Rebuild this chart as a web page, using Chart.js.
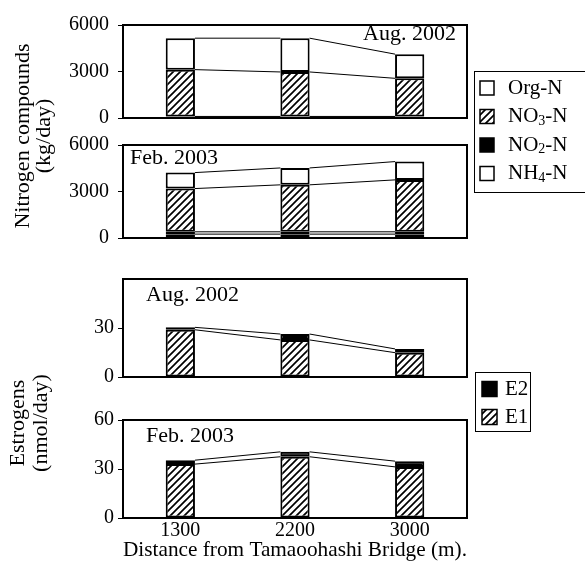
<!DOCTYPE html>
<html>
<head>
<meta charset="utf-8">
<script src="https://cdn.jsdelivr.net/npm/chart.js@4.4.1/dist/chart.umd.min.js"></script>
<style>
  html, body { margin: 0; padding: 0; background: #fff; }
  #wrap { position: relative; width: 585px; height: 574px; overflow: hidden; background: #fff; }
  #wrap canvas { position: absolute; left: 0; top: 0; }
</style>
</head>
<body>
<div id="wrap">
  <canvas id="nAug" width="585" height="574"></canvas>
  <canvas id="nFeb" width="585" height="574"></canvas>
  <canvas id="eAug" width="585" height="574"></canvas>
  <canvas id="eFeb" width="585" height="574"></canvas>
</div>
<script>
// Sampling points along the river (m from Tamaoohashi Bridge)
const distances = ['1300', '2200', '3000'];

// Nitrogen loads, kg/day (stacked bottom to top: NH4, NO2, NO3, Org)
const nitrogenSeries = ['NH4-N', 'NO2-N', 'NO3-N', 'Org-N'];
const nh4Aug = [60, 60, 60];
const no2Aug = [40, 40, 40];
const no3Aug = [3020, 2870, 2460];
const orgAug = [2030, 2180, 1560];
const nh4Feb = [250, 250, 250];
const no2Feb = [150, 150, 150];
const no3Feb = [2790, 3030, 3350];
const orgFeb = [1030, 1090, 1180];

// Estrogen loads, nmol/day (stacked bottom to top: E1, E2)
const estrogenSeries = ['E1', 'E2'];
const e1Aug = [28.9, 22.7, 14.9];
const e2Aug = [1.5, 3.6, 2.3];
const e1Feb = [33.0, 37.5, 31.3];
const e2Feb = [2.4, 3.0, 3.5];

// Axis ticks
const nitrogenTicks = [0, 3000, 6000];
const estrogenTicks = [0, 30, 60];

const FONT = '"Liberation Serif", "Times New Roman", serif';
Chart.defaults.font.family = FONT;
Chart.defaults.color = '#000';

function makeHatch() {
  const s = 7;
  const c = document.createElement('canvas');
  c.width = s; c.height = s;
  const g = c.getContext('2d');
  g.fillStyle = '#fff';
  g.fillRect(0, 0, s, s);
  g.strokeStyle = '#000';
  g.lineWidth = 1.7;
  g.beginPath();
  g.moveTo(-1, s + 1); g.lineTo(s + 1, -1);
  g.moveTo(-1, 1); g.lineTo(1, -1);
  g.moveTo(s - 1, s + 1); g.lineTo(s + 1, s - 1);
  g.stroke();
  return g.createPattern(c, 'repeat');
}
const HATCH = makeHatch();

const fills = {
  'NH4-N': '#fff', 'NO2-N': '#000', 'NO3-N': HATCH, 'Org-N': '#fff',
  'E1': HATCH, 'E2': '#000'
};

// Text with a subscript digit, e.g. NO3-N
function drawRich(ctx, label, x, y, size) {
  const m = label.match(/^([A-Za-z]+)(\d)(-.*)$/);
  ctx.textAlign = 'left';
  ctx.textBaseline = 'middle';
  ctx.fillStyle = '#000';
  ctx.font = size + 'px ' + FONT;
  if (!m) { ctx.fillText(label, x, y); return; }
  ctx.fillText(m[1], x, y);
  let w = ctx.measureText(m[1]).width;
  ctx.font = Math.round(size * 0.68) + 'px ' + FONT;
  ctx.fillText(m[2], x + w, y + size * 0.22);
  w += ctx.measureText(m[2]).width;
  ctx.font = size + 'px ' + FONT;
  ctx.fillText(m[3], x + w, y);
}

// Box around the plotting area
const framePlugin = {
  id: 'frame',
  afterDraw(chart) {
    const { ctx, chartArea: a } = chart;
    ctx.save();
    ctx.strokeStyle = '#000';
    ctx.lineWidth = 2;
    ctx.strokeRect(a.left, a.top, a.right - a.left, a.bottom - a.top);
    ctx.restore();
  }
};

// Thin lines joining the tops of matching segments of neighbouring bars
const connectorPlugin = {
  id: 'connectors',
  afterDatasetsDraw(chart) {
    const ctx = chart.ctx;
    ctx.save();
    ctx.strokeStyle = '#000';
    ctx.lineWidth = 1;
    chart.data.datasets.forEach((ds, di) => {
      const bars = chart.getDatasetMeta(di).data;
      for (let i = 0; i < bars.length - 1; i++) {
        const a = bars[i], b = bars[i + 1];
        ctx.beginPath();
        ctx.moveTo(a.x + a.width / 2, a.y);
        ctx.lineTo(b.x - b.width / 2, b.y);
        ctx.stroke();
      }
    });
    ctx.restore();
  }
};

// Panel caption, legend box and rotated axis titles
const decorPlugin = {
  id: 'decor',
  afterDraw(chart, args, opts) {
    const ctx = chart.ctx;
    ctx.save();
    if (opts.caption) {
      ctx.font = opts.captionSize + 'px ' + FONT;
      ctx.fillStyle = '#000';
      ctx.textAlign = opts.captionAlign || 'left';
      ctx.textBaseline = 'middle';
      ctx.fillText(opts.caption, opts.captionX, opts.captionY);
    }
    if (opts.legend) {
      const L = opts.legend;
      ctx.strokeStyle = '#000';
      ctx.lineWidth = 1;
      ctx.strokeRect(L.x + 0.5, L.y + 0.5, L.w, L.h);
      const items = chart.data.datasets.map(d => d.label).reverse();
      items.forEach((name, i) => {
        const cy = L.firstRow + i * L.rowGap;
        ctx.fillStyle = fills[name];
        ctx.fillRect(L.symX, cy - L.sym / 2, L.sym, L.sym);
        ctx.lineWidth = 1.5;
        ctx.strokeStyle = '#000';
        ctx.strokeRect(L.symX, cy - L.sym / 2, L.sym, L.sym);
        drawRich(ctx, name, L.textX, cy, L.size);
      });
    }
    if (opts.yTitle) {
      const T = opts.yTitle;
      ctx.font = T.size + 'px ' + FONT;
      ctx.fillStyle = '#000';
      ctx.textAlign = 'center';
      ctx.textBaseline = 'middle';
      T.lines.forEach((line, i) => {
        ctx.save();
        ctx.translate(T.xs[i], T.y);
        ctx.rotate(-Math.PI / 2);
        ctx.fillText(line, 0, 0);
        ctx.restore();
      });
    }
    ctx.restore();
  }
};

function barSet(label, data) {
  return {
    label, data,
    backgroundColor: fills[label],
    borderColor: '#000',
    borderWidth: 2,
    borderSkipped: false,
    barPercentage: 0.255,
    categoryPercentage: 1
  };
}

function panel(id, datasets, cfg) {
  const showX = !!cfg.showX;
  const layoutPad = { left: 0, right: 118, top: cfg.top, bottom: showX ? 11 : 574 - cfg.bottom };
  const hidden = v => cfg.hideTop && v === cfg.max;
  return new Chart(document.getElementById(id), {
    type: 'bar',
    data: { labels: distances, datasets },
    options: {
      responsive: false,
      animation: false,
      events: [],
      layout: { padding: layoutPad },
      plugins: {
        legend: { display: false },
        tooltip: { enabled: false },
        decor: cfg.decor || {}
      },
      scales: {
        x: {
          stacked: true,
          display: showX,
          grid: { display: false, drawTicks: false },
          border: { display: false },
          ticks: { font: { size: 20 }, padding: 1, color: '#000' },
          title: {
            display: showX,
            text: 'Distance from Tamaoohashi Bridge (m).',
            font: { size: 22 },
            color: '#000',
            padding: { top: 0, bottom: 0 }
          },
          afterFit(s) { if (showX) s.height = 45; }
        },
        y: {
          stacked: true,
          min: 0,
          max: cfg.max,
          afterBuildTicks(s) { s.ticks = cfg.ticks.map(v => ({ value: v })); },
          ticks: {
            font: { size: 20 },
            color: '#000',
            padding: cfg.tickPad,
            callback: v => hidden(v) ? '' : String(v)
          },
          grid: {
            drawOnChartArea: false, drawTicks: true, tickLength: 5, lineWidth: 1,
            color: c => (c.tick && hidden(c.tick.value)) ? 'rgba(0,0,0,0)' : '#000'
          },
          border: { display: true, color: '#000', width: 2 },
          afterFit(s) { s.width = 123; }
        }
      }
    },
    plugins: [connectorPlugin, framePlugin, decorPlugin]
  });
}

// Nitrogen, August 2002
panel('nAug', [
  barSet('NH4-N', nh4Aug), barSet('NO2-N', no2Aug),
  barSet('NO3-N', no3Aug), barSet('Org-N', orgAug)
], {
  top: 25, bottom: 118, max: 6000, ticks: nitrogenTicks, tickPad: 9,
  decor: {
    caption: 'Aug. 2002', captionX: 456, captionY: 34, captionAlign: 'right', captionSize: 22,
    legend: { x: 474, y: 71, w: 120, h: 121, firstRow: 88, rowGap: 28.5, symX: 480, sym: 14, textX: 508, size: 21 },
    yTitle: { lines: ['Nitrogen compounds', '(kg/day)'], xs: [23, 44], y: 136, size: 22 }
  }
});

// Nitrogen, February 2003
panel('nFeb', [
  barSet('NH4-N', nh4Feb), barSet('NO2-N', no2Feb),
  barSet('NO3-N', no3Feb), barSet('Org-N', orgFeb)
], {
  top: 145, bottom: 238, max: 6000, ticks: nitrogenTicks, tickPad: 9,
  decor: { caption: 'Feb. 2003', captionX: 130, captionY: 158, captionSize: 22 }
});

// Estrogens, August 2002
panel('eAug', [barSet('E1', e1Aug), barSet('E2', e2Aug)], {
  top: 279, bottom: 377, max: 60, ticks: estrogenTicks, tickPad: 4, hideTop: true,
  decor: {
    caption: 'Aug. 2002', captionX: 146, captionY: 295, captionSize: 22,
    legend: { x: 475, y: 372, w: 55, h: 59, firstRow: 389, rowGap: 28, symX: 482, sym: 15, textX: 505, size: 21 },
    yTitle: { lines: ['Estrogens', '(nmol/day)'], xs: [18, 41], y: 423, size: 22 }
  }
});

// Estrogens, February 2003
panel('eFeb', [barSet('E1', e1Feb), barSet('E2', e2Feb)], {
  top: 420, bottom: 518, max: 60, ticks: estrogenTicks, tickPad: 4, showX: true,
  decor: { caption: 'Feb. 2003', captionX: 146, captionY: 436, captionSize: 22 }
});
</script>
</body>
</html>
